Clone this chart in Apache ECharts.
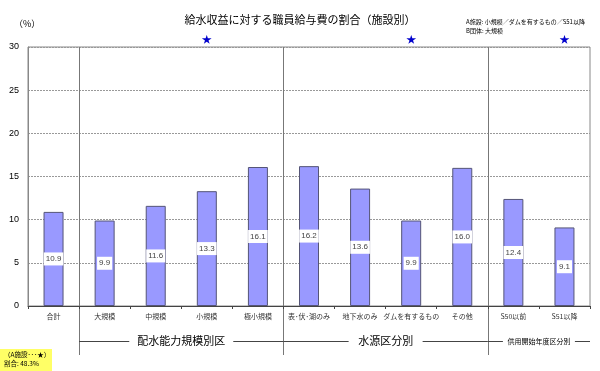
<!DOCTYPE html>
<html><head><meta charset="utf-8">
<script src="https://cdn.jsdelivr.net/npm/echarts@6/dist/echarts.min.js"></script>
<style>html,body{margin:0;padding:0;background:#fff}#c{width:600px;height:371px}</style>
</head><body><div id="c"></div>
<script>
var categories = ['合計','大規模','中規模','小規模','極小規模','表･伏･湖のみ','地下水のみ','ダムを有するもの','その他','S50以前','S51以降'];
var values = [10.9, 9.9, 11.6, 13.3, 16.1, 16.2, 13.6, 9.9, 16.0, 12.4, 9.1];
var starred = ['小規模','ダムを有するもの','S51以降'];
var groups = [
  {name:'配水能力規模別区', from:1, to:4, size:11, w:96},
  {name:'水源区分別', from:5, to:8, size:11, w:66},
  {name:'供用開始年度区分別', from:9, to:10, size:7, w:64}
];
var yTicks = [0,5,10,15,20,25,30];
var FONT = '"Noto Sans CJK JP", sans-serif';
var chart = echarts.init(document.getElementById('c'));
var grid = {left:28, right:10, top:47, bottom:65};
chart.setOption({
  animation:false,
  title:{text:'給水収益に対する職員給与費の割合（施設別）', left:'center', top:9,
    textStyle:{fontFamily:FONT, fontSize:11, fontWeight:'normal', color:'#000'}},
  grid:{left:grid.left, right:grid.right, top:grid.top, bottom:grid.bottom, show:true, borderColor:'#888', borderWidth:1},
  xAxis:{type:'category', data:categories,
    axisLine:{lineStyle:{color:'#444'}},
    axisTick:{show:true, length:3, lineStyle:{color:'#444'}},
    axisLabel:{fontFamily:FONT, fontSize:7, color:'#333', margin:7, interval:0}},
  yAxis:{type:'value', min:0, max:30, interval:5,
    axisLine:{show:true, lineStyle:{color:'#888'}},
    axisTick:{show:false},
    axisLabel:{fontFamily:'Arial, "Liberation Sans", sans-serif', fontSize:9, color:'#000', margin:9},
    splitLine:{lineStyle:{color:'#999', type:[2,1], width:1}}},
  series:[{type:'bar', data:values, barWidth:20,
    itemStyle:{color:'#9999FF', borderColor:'#555577', borderWidth:1},
    label:{show:true, position:'inside', formatter:function(p){return p.value.toFixed(1);},
      backgroundColor:'#fff', padding:[3,2,2,2], color:'#444', fontSize:8, fontFamily:'Arial, sans-serif'}}]
});
function place(){
  var g = [];
  var y0 = chart.convertToPixel({yAxisIndex:0}, 30);
  var yb = chart.convertToPixel({yAxisIndex:0}, 0);
  var cw = chart.convertToPixel({xAxisIndex:0}, categories[1]) - chart.convertToPixel({xAxisIndex:0}, categories[0]);
  var bounds = [1,5,9];
  bounds.forEach(function(i){
    var x = Math.round(chart.convertToPixel({xAxisIndex:0}, categories[i]) - cw/2) + 0.5;
    g.push({type:'line', shape:{x1:x,y1:y0,x2:x,y2:yb+49}, style:{stroke:'#777', lineWidth:1}});
  });
  var gy = yb + 35;
  groups.forEach(function(gr){
    var xa = chart.convertToPixel({xAxisIndex:0}, categories[gr.from]) - cw/2;
    var xb = chart.convertToPixel({xAxisIndex:0}, categories[gr.to]) + cw/2;
    var xc = (xa+xb)/2;
    g.push({type:'line', shape:{x1:xa,y1:gy+0.5,x2:xc-gr.w/2-4,y2:gy+0.5}, style:{stroke:'#444', lineWidth:1}});
    g.push({type:'line', shape:{x1:xc+gr.w/2+4,y1:gy+0.5,x2:xb,y2:gy+0.5}, style:{stroke:'#444', lineWidth:1}});
    g.push({type:'text', x:xc, y:gy, style:{text:gr.name, fontFamily:FONT, fontSize:gr.size, fill:'#000', align:'center', verticalAlign:'middle'}});
  });
  starred.forEach(function(c){
    var x = chart.convertToPixel({xAxisIndex:0}, c);
    g.push({type:'text', x:x, y:y0-8, style:{text:'★', fontFamily:FONT, fontSize:10, fill:'#0000CC', align:'center', verticalAlign:'middle'}});
  });
  g.push({type:'text', x:14, y:24, style:{text:'（%）', fontFamily:FONT, fontSize:9, fill:'#000', verticalAlign:'middle'}});
  g.push({type:'text', x:466, y:22, style:{text:'A施設: 小規模／ダムを有するもの／S51以降', fontFamily:FONT, fontSize:6, fill:'#000', verticalAlign:'middle'}});
  g.push({type:'text', x:466, y:31, style:{text:'B団体: 大規模', fontFamily:FONT, fontSize:6, fill:'#000', verticalAlign:'middle'}});
  g.push({type:'rect', shape:{x:0,y:349,width:52,height:22}, style:{fill:'#FFFF66'}});
  g.push({type:'text', x:4, y:355, style:{text:'（A施設･･･★）', fontFamily:FONT, fontSize:6.5, fill:'#000', verticalAlign:'middle'}});
  g.push({type:'text', x:4, y:364, style:{text:'割合: 48.3%', fontFamily:FONT, fontSize:6.5, fill:'#000', verticalAlign:'middle'}});
  chart.setOption({graphic:{elements:g}});
}
place();
</script></body></html>
